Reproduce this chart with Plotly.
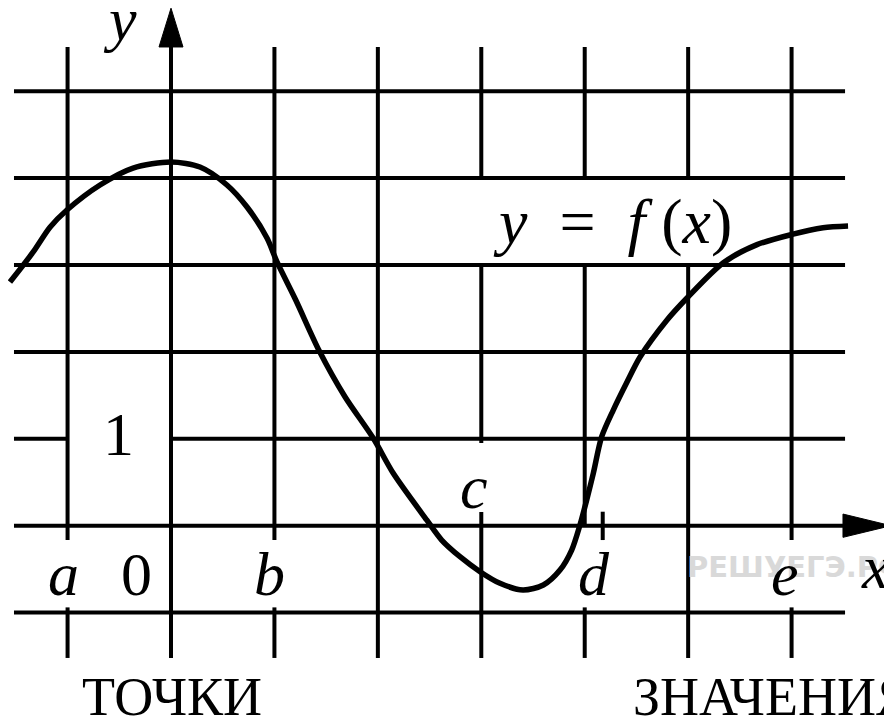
import plotly.graph_objects as go

# ---- data ----
CURVE_X = [-1.557, -1.334, -1.170, -1.006, -0.686, -0.367, 0.000, 0.280, 0.541, 0.735,
           0.928, 1.025, 1.206, 1.434, 1.682, 1.956, 2.149, 2.472, 2.617, 2.794,
           2.988, 3.181, 3.403, 3.600, 3.761, 3.874, 3.954, 4.019, 4.083, 4.164,
           4.276, 4.409, 4.535, 4.796, 4.989, 5.337, 5.666, 5.994, 6.304, 6.546]
CURVE_Y = [2.804, 3.147, 3.435, 3.633, 3.921, 4.116, 4.185, 4.128, 3.921, 3.667,
           3.311, 3.035, 2.597, 2.010, 1.484, 1.006, 0.603, 0.066, -0.165, -0.357,
           -0.529, -0.663, -0.740, -0.682, -0.510, -0.280, 0.008, 0.296, 0.603, 1.024,
           1.331, 1.654, 1.941, 2.367, 2.620, 3.023, 3.234, 3.349, 3.429, 3.449]
GRID_X = [-1, 0, 1, 2, 3, 4, 5, 6]
GRID_Y = [-1, 0, 1, 2, 3, 4, 5]
POINT_LABELS = ["a", "b", "c", "d", "e"]
POINT_X = [-1.044, 0.957, 2.929, 4.090, 5.936]
ORIGIN_LABEL = "0"
UNIT_LABEL = "1"
BOTTOM_LEFT = "ТОЧКИ"
BOTTOM_RIGHT = "ЗНАЧЕНИЯ"
WATERMARK = "РЕШУЕГЭ.РФ"

# ---- layout geometry (page body has an 8px margin) ----
X_LO, X_HI = -1.5759, 6.9709
Y_LO, Y_HI = -2.2474, 5.9574
H_START, H_END = -1.518, 6.517
V_BOT, V_TOP = -1.522, 5.509
GRID_W = 4

h_segments = {}
for y in GRID_Y:
    if y == 1:
        h_segments[y] = [(H_START, -1), (0, H_END)]
    elif y == 0:
        h_segments[y] = [(H_START, 6.55)]
    else:
        h_segments[y] = [(H_START, H_END)]

v_segments = {
    -1: [(V_BOT, -0.94), (-0.165, V_TOP)],
    0: [(V_BOT, 5.55)],
    1: [(V_BOT, -0.94), (-0.165, V_TOP)],
    2: [(V_BOT, V_TOP)],
    3: [(V_BOT, 0.158), (0.952, 3), (4, V_TOP)],
    4: [(V_BOT, -0.94), (0, 3), (4, V_TOP)],
    5: [(V_BOT, 3), (4, V_TOP)],
    6: [(V_BOT, -0.94), (-0.165, V_TOP)],
}

shapes = []
for y in GRID_Y:
    for a, b in h_segments[y]:
        shapes.append(dict(type="line", xref="x", yref="y", x0=a, x1=b, y0=y, y1=y,
                           line=dict(color="black", width=GRID_W)))
for x in GRID_X:
    for a, b in v_segments[x]:
        shapes.append(dict(type="line", xref="x", yref="y", x0=x, x1=x, y0=a, y1=b,
                           line=dict(color="black", width=GRID_W)))
# small tick near d
shapes.append(dict(type="line", xref="x", yref="y", x0=4.174, x1=4.174, y0=-0.165, y1=0.161,
                   line=dict(color="black", width=GRID_W)))
# arrow heads
shapes.append(dict(type="path", xref="x", yref="y",
                   path="M -0.116 5.509 L 0 5.955 L 0.116 5.509 Z",
                   fillcolor="black", line=dict(color="black", width=1)))
shapes.append(dict(type="path", xref="x", yref="y",
                   path="M 6.497 0.134 L 6.961 0 L 6.497 -0.134 Z",
                   fillcolor="black", line=dict(color="black", width=1)))

fig = go.Figure()
fig.add_trace(go.Scatter(x=CURVE_X, y=CURVE_Y, mode="lines",
                         line=dict(color="black", width=5.5, shape="spline", smoothing=0.8),
                         hoverinfo="skip", showlegend=False))

SERIF = "Liberation Serif"
FS = 62
ann = []


def label(text, x, y, size=FS, italic=True, xanchor="center", family=SERIF, color="black",
          weight="normal"):
    ann.append(dict(text=text, x=x, y=y, xref="x", yref="y", showarrow=False,
                    xanchor=xanchor, yanchor="middle",
                    font=dict(family=family, size=size, color=color,
                              style="italic" if italic else "normal", weight=weight)))


# watermark first (under other labels)
label(WATERMARK, 4.970, -0.475, size=29, italic=False, xanchor="left",
      family="DejaVu Sans", color="#d9d9d9", weight="bold")

label("y", -0.493, 5.831)
label("<i>y</i>&nbsp;&nbsp;=&nbsp;&nbsp;<i>f</i>&nbsp;(<i>x</i>)", 4.273, 3.500,
      size=64, italic=False)
label(UNIT_LABEL, -0.512, 1.055, italic=False)
label(ORIGIN_LABEL, -0.338, -0.556, italic=False)
for name, px in zip(POINT_LABELS, POINT_X):
    py = 0.445 if name == "c" else -0.556
    label(name, px, py)
label("x", 6.807, -0.475)
label(BOTTOM_LEFT, 0.010, -1.971, size=54, italic=False)
label(BOTTOM_RIGHT, 4.447, -1.971, size=54, italic=False, xanchor="left")

fig.update_layout(
    width=884, height=713,
    margin=dict(l=0, r=0, t=0, b=0),
    paper_bgcolor="white", plot_bgcolor="white",
    xaxis=dict(range=[X_LO, X_HI], visible=False, fixedrange=True),
    yaxis=dict(range=[Y_LO, Y_HI], visible=False, fixedrange=True),
    shapes=shapes, annotations=ann, showlegend=False,
)
fig.write_html("out.html")
